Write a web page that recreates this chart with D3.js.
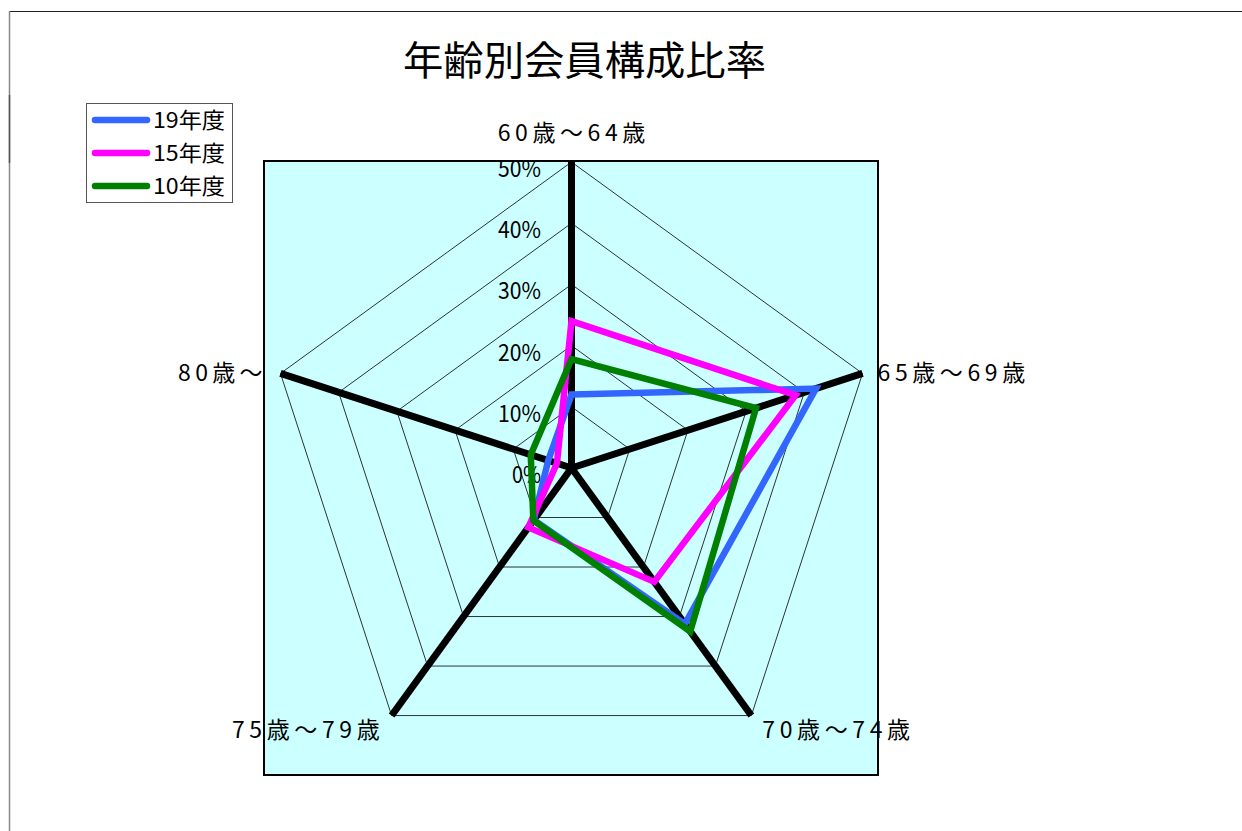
<!DOCTYPE html>
<html><head><meta charset="utf-8">
<script src="https://cdn.jsdelivr.net/npm/d3@7"></script>
<style>body{margin:0;background:#fff}svg{display:block}text{font-family:"Noto Sans CJK JP","Noto Sans",sans-serif;fill:#000}</style>
</head><body>
<script>
const categories = ["60歳～64歳", "65歳～69歳", "70歳～74歳", "75歳～79歳", "80歳～"];
const seriesNames = ["19年度", "15年度", "10年度"];
const values19 = [12, 42, 31.5, 10.5, 4];
const values15 = [24, 38.5, 23, 12, 2.5];
const values10 = [17.8, 31.7, 33, 10.6, 7];
const tickValues = [0, 10, 20, 30, 40, 50];
const tickLabels = ["0%", "10%", "20%", "30%", "40%", "50%"];
const colors = ["#3366FF", "#FF00FF", "#008000"];
const allSeries = [values19, values15, values10];

const W = 1242, H = 831;
const cx = 571.5, cy = 468, R = 306;
const svg = d3.select("body").append("svg").attr("width", W).attr("height", H);

// outer chart border
svg.append("line").attr("x1", 9.5).attr("x2", W).attr("y1", 11.5).attr("y2", 11.5).attr("stroke", "#222").attr("stroke-width", 1);
svg.append("line").attr("x1", 9.5).attr("x2", 9.5).attr("y1", 11).attr("y2", H).attr("stroke", "#888").attr("stroke-width", 1.5);
svg.append("line").attr("x1", 9.5).attr("x2", 9.5).attr("y1", 95).attr("y2", 163).attr("stroke", "#555").attr("stroke-width", 1.5);

// title
svg.append("text").attr("x", 584.5).attr("y", 75).attr("text-anchor", "middle")
  .attr("font-size", 40).attr("textLength", 363).attr("lengthAdjust", "spacingAndGlyphs").text("年齢別会員構成比率");

// plot area
svg.append("rect").attr("x", 264).attr("y", 161).attr("width", 614).attr("height", 614)
  .attr("fill", "#CCFFFF").attr("stroke", "#000").attr("stroke-width", 2);

const r = d3.scaleLinear().domain([0, 50]).range([0, R]);
const angle = d3.scalePoint().domain(d3.range(categories.length)).range([0, 2 * Math.PI * (categories.length - 1) / categories.length]);
const pt = (i, v) => [cx + r(v) * Math.sin(angle(i)), cy - r(v) * Math.cos(angle(i))];

const g = svg.append("g");
// grid pentagons
tickValues.filter(t => t > 0).forEach(t => {
  g.append("path")
    .attr("d", d3.line()(categories.map((c, i) => pt(i, t))) + "Z")
    .attr("fill", "none").attr("stroke", "#000").attr("stroke-width", 0.8);
});
// spokes
categories.forEach((c, i) => {
  const [x, y] = pt(i, 50);
  g.append("line").attr("x1", cx).attr("y1", cy).attr("x2", x).attr("y2", y)
    .attr("stroke", "#000").attr("stroke-width", 7);
});
// tick labels
tickValues.forEach((t, k) => {
  const label = tickLabels[k];
  svg.append("text").attr("x", 541).attr("y", cy - r(t) + 15).attr("text-anchor", "end")
    .attr("font-size", 23).attr("textLength", label.length === 2 ? 29 : 43).attr("lengthAdjust", "spacingAndGlyphs").text(label);
});
// category labels
categories.forEach((c, i) => {
  const [x, y] = pt(i, 50);
  const s = Math.sin(angle(i)), co = Math.cos(angle(i));
  let anchor = "middle", lx = x, ly = y;
  if (Math.abs(s) < 0.1) { ly = y - 21; }
  else if (co > 0) { anchor = s > 0 ? "start" : "end"; lx = x + (s > 0 ? 15 : -18); ly = y + 8; }
  else { anchor = s > 0 ? "start" : "end"; lx = x + (s > 0 ? 11 : -12); ly = y + 22; }
  svg.append("text").attr("x", lx).attr("y", ly).attr("text-anchor", anchor)
    .attr("font-size", 23).attr("textLength", c.length * 21.1).attr("lengthAdjust", "spacing").text(c);
});
// series
const line = d3.line();
allSeries.forEach((vals, si) => {
  svg.append("path").attr("d", line(vals.map((v, i) => pt(i, v))) + "Z")
    .attr("fill", "none").attr("stroke", colors[si]).attr("stroke-width", 6.5).attr("stroke-linejoin", "miter");
});

// legend
const lg = svg.append("g");
lg.append("rect").attr("x", 86.5).attr("y", 103.5).attr("width", 146).attr("height", 99)
  .attr("fill", "#fff").attr("stroke", "#555").attr("stroke-width", 1);
seriesNames.forEach((n, i) => {
  const y = 120 + i * 33;
  lg.append("line").attr("x1", 95).attr("x2", 147).attr("y1", y).attr("y2", y)
    .attr("stroke", colors[i]).attr("stroke-width", 6.5).attr("stroke-linecap", "round");
  lg.append("text").attr("x", 153).attr("y", y + 8).attr("font-size", 22)
    .attr("textLength", 72).attr("lengthAdjust", "spacingAndGlyphs").text(n);
});
</script>
</body></html>
